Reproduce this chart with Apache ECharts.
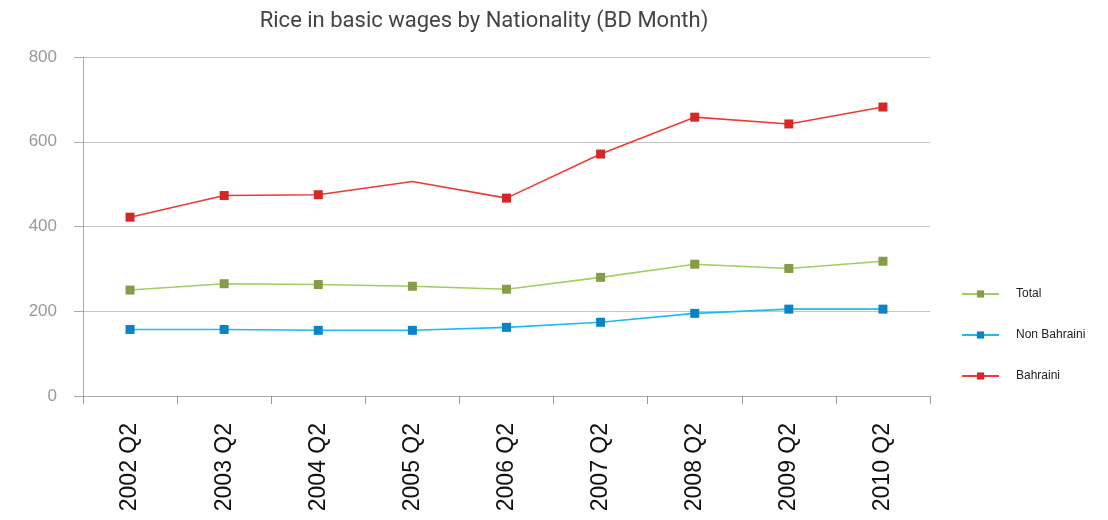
<!DOCTYPE html>
<html><head><meta charset="utf-8">
<script src="https://cdn.jsdelivr.net/npm/echarts@6/dist/echarts.min.js"></script>
<style>html,body{margin:0;padding:0;background:#fff}#c{width:1108px;height:520px}</style>
</head><body><div id="c"></div>
<script>
const categories = ["2002 Q2","2003 Q2","2004 Q2","2005 Q2","2006 Q2","2007 Q2","2008 Q2","2009 Q2","2010 Q2"];
const totalValues = [250, 265, 263, 259, 252, 280, 311, 301, 318];
const nonBahrainiValues = [157, 157, 155, 155, 162, 174, 195, 205, 205];
const bahrainiValues = [422, 473, 475, 506, 467, 571, 658, 642, 682];
const yTicks = [0, 200, 400, 600, 800];
const hiddenMarkerIndexBahraini = 3;

const chart = echarts.init(document.getElementById('c'), null, {renderer:'canvas'});
function mk(name, data, lineColor, markColor, hideIdx){
  return {
    name, type:'line', data: data.map((v,i)=> (i===hideIdx ? {value:v, symbol:'none'} : v)),
    symbol:'rect', symbolSize:9, showSymbol:true,
    lineStyle:{color:lineColor, width:1.6},
    itemStyle:{color:markColor},
    emphasis:{disabled:true}, animation:false
  };
}
chart.setOption({
  animation:false,
  title:{text:'Rice in basic wages by Nationality (BD Month)', left:479, textAlign:'center', top:5,
    textStyle:{fontFamily:'Roboto', fontWeight:'normal', fontSize:22, color:'#444'}},
  legend:{orient:'vertical', left:956, top:283, itemWidth:37, itemHeight:9, itemGap:29,
    data:['Total','Non Bahraini','Bahraini'],
    textStyle:{fontFamily:'Liberation Sans', fontSize:12, color:'#222', padding:[0,0,0,12]}},
  grid:{left:83, right:178, top:57, bottom:124, containLabel:false},
  xAxis:{type:'category', data:categories, boundaryGap:true,
    axisLine:{lineStyle:{color:'#aaa', width:1}},
    axisTick:{show:true, length:8, alignWithLabel:false, lineStyle:{color:'#999'}},
    axisLabel:{rotate:90, margin:27, fontFamily:'Liberation Sans', fontSize:23, color:'#111', interval:0}},
  yAxis:{type:'value', min:yTicks[0], max:yTicks[yTicks.length-1], interval:200,
    axisLine:{show:true, lineStyle:{color:'#aaa'}},
    axisTick:{show:true, length:9, lineStyle:{color:'#aaa'}},
    splitLine:{lineStyle:{color:'#c4c4c4', width:1}},
    axisLabel:{margin:26, fontFamily:'Liberation Sans', fontSize:17, color:'#999'}},
  series:[
    mk('Total', totalValues, '#9fcf63', '#869c46', -1),
    mk('Non Bahraini', nonBahrainiValues, '#1cbcee', '#0a84c6', -1),
    mk('Bahraini', bahrainiValues, '#ec3b30', '#d62728', hiddenMarkerIndexBahraini)
  ]
});
</script></body></html>
